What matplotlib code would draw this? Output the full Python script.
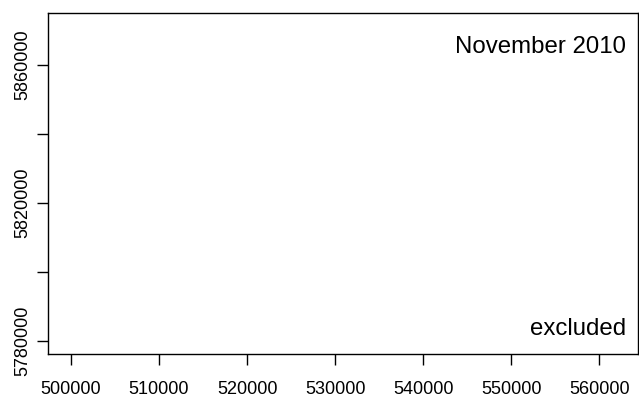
import matplotlib
matplotlib.use("Agg")
import matplotlib.pyplot as plt
from matplotlib.ticker import FixedLocator, FixedFormatter

plt.rcParams["font.family"] = ["Liberation Sans", "DejaVu Sans"]

# axis ranges (easting / northing) and ticks
x_range = (497423, 564393)
y_range = (5776150, 5874848)
x_ticks = [500000, 510000, 520000, 530000, 540000, 550000, 560000]
y_ticks = [5780000, 5800000, 5820000, 5840000, 5860000]
y_tick_labels = ["5780000", "", "5820000", "", "5860000"]

title_text = "November 2010"
note_text = "excluded"

fig = plt.figure(figsize=(6.39, 4.01), dpi=100)
ax = fig.add_axes([0.0756, 0.1165, 0.9228, 0.8503])
ax.set_xlim(*x_range)
ax.set_ylim(*y_range)

ax.xaxis.set_major_locator(FixedLocator(x_ticks))
ax.xaxis.set_major_formatter(FixedFormatter([str(t) for t in x_ticks]))
ax.yaxis.set_major_locator(FixedLocator(y_ticks))
ax.yaxis.set_major_formatter(FixedFormatter(y_tick_labels))

for s in ax.spines.values():
    s.set_linewidth(1.0)
    s.set_color("black")

ax.tick_params(axis="x", length=8, width=1.0, pad=11, labelsize=13, colors="black")
ax.tick_params(axis="y", length=8, width=1.0, pad=4, labelsize=13, colors="black")
for lbl in ax.get_yticklabels():
    lbl.set_rotation(90)
    lbl.set_va("center")

ax.text(0.98, 0.883, title_text, transform=ax.transAxes, ha="right", va="baseline",
        fontsize=17.3, color="black")
ax.text(0.98, 0.0557, note_text, transform=ax.transAxes, ha="right", va="baseline",
        fontsize=17.3, color="black")

fig.savefig("out.png", dpi=100)
